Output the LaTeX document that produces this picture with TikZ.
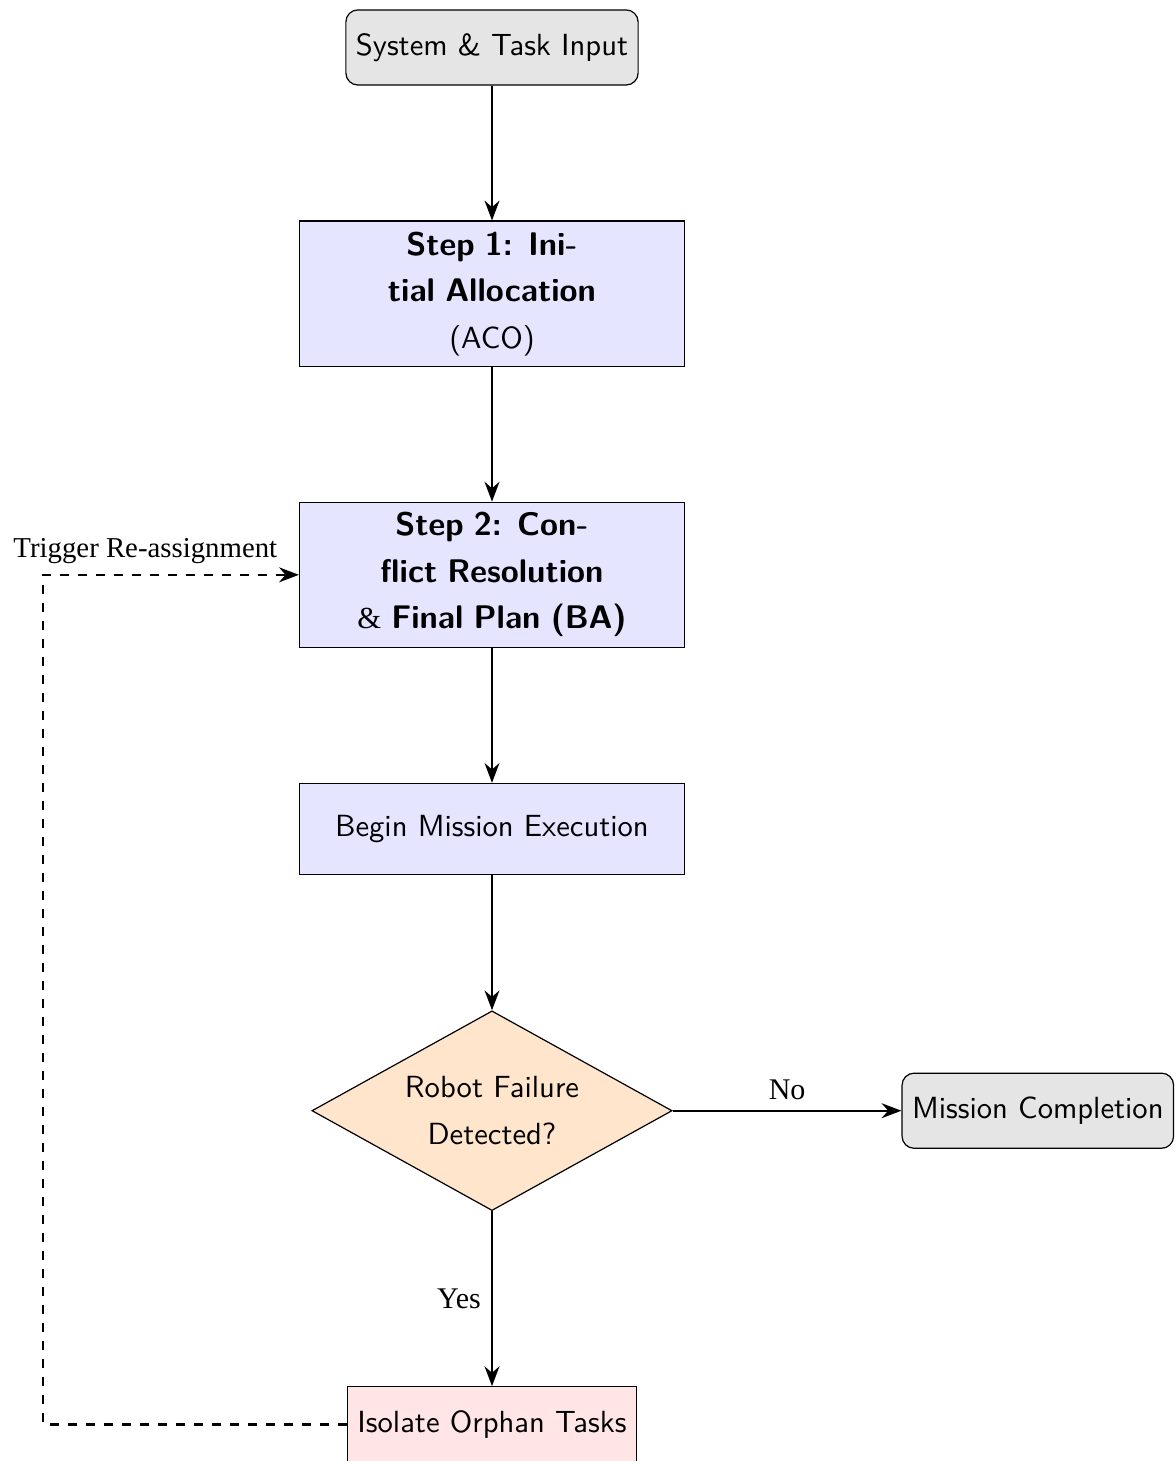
\documentclass[tikz,border=0pt]{standalone}
\usepackage{fontspec}
\setmainfont{Liberation Serif}
\usetikzlibrary{arrows.meta, shapes.geometric, positioning}

\newcommand{\stepbf}[1]{\textbf{\fontsize{10.9}{15.5}\selectfont #1}}

\begin{document}
\begin{tikzpicture}[
        node distance=1.58cm and 2.68cm,
        nodefont/.style={font=\sffamily\fontsize{10.2}{15.5}\selectfont},
        terminal/.style={rectangle, draw, fill=gray!20, rounded corners, minimum height=0.88cm, nodefont},
        stepbox/.style={rectangle, draw, fill=blue!10, text width=3.5cm, align=center, minimum width=4.51cm, nodefont},
        decision/.style={diamond, draw, fill=orange!20, aspect=1.8, text width=2.2cm, inner sep=2.5pt, align=center, minimum width=4.22cm, minimum height=2.34cm, nodefont},
        orphan/.style={rectangle, draw, fill=red!10, minimum height=0.88cm, nodefont},
        arrow/.style={-Stealth, thick},
        feedback/.style={-Stealth, thick, dashed}
    ]
    \useasboundingbox (0,0) rectangle (13.777,-17.116);

    % Start
    \node (input) [terminal] at (5.764,-0.556) {System \& Task Input};

    % Planning steps
    \node (step1) [stepbox, below=of input, minimum height=1.7cm] {\stepbf{Step 1: Ini-}\\\stepbf{tial Allocation}\\(ACO)};
    \node (step2) [stepbox, below=of step1, minimum height=1.7cm] {\stepbf{Step 2: Con-}\\\stepbf{flict Resolution}\\{\rmfamily\&} \stepbf{Final Plan (BA)}};
    \node (execute) [stepbox, below=of step2, text width=4.2cm, minimum height=1.07cm] {Begin Mission Execution};

    % Decision
    \node (failure) [decision, below=of execute] {Robot Failure\\Detected?};
    \node (complete) [terminal, right=of failure] {Mission Completion};
    \node (isolate) [orphan, below=2.05cm of failure] {Isolate Orphan Tasks};
    \coordinate [left=3.56cm of isolate.west] (loop);

    % Connections
    \draw [arrow] (input) -- (step1);
    \draw [arrow] (step1) -- (step2);
    \draw [arrow] (step2) -- (execute);
    \draw [arrow] (execute) -- (failure);
    \draw [arrow] (failure) -- (complete) node[midway, above] {No};
    \draw [arrow] (failure) -- (isolate) node[midway, left] {Yes};
    \draw [feedback] (isolate.west) -- (loop) |- node[pos=0.7, above, font=\fontsize{9.6}{11}\selectfont] {Trigger Re-assignment} (step2.west);

\end{tikzpicture}
\end{document}
